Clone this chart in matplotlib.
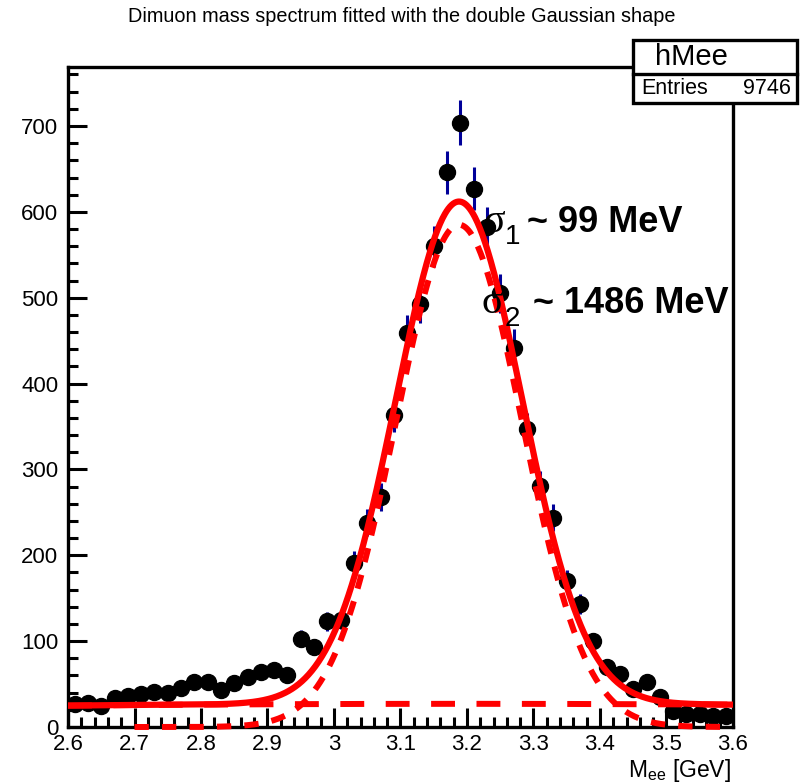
import numpy as np
import matplotlib
matplotlib.use("Agg")
import matplotlib.pyplot as plt
from matplotlib.ticker import MultipleLocator, FuncFormatter
from matplotlib.patches import Rectangle
from matplotlib.lines import Line2D

plt.rcParams['font.family'] = ['Liberation Sans', 'DejaVu Sans']

# ---- data ----
bin_centers = [2.61, 2.63, 2.65, 2.67, 2.69, 2.71, 2.73, 2.75, 2.77, 2.79,
               2.81, 2.83, 2.85, 2.87, 2.89, 2.91, 2.93, 2.95, 2.97, 2.99,
               3.01, 3.03, 3.05, 3.07, 3.09, 3.11, 3.13, 3.15, 3.17, 3.19,
               3.21, 3.23, 3.25, 3.27, 3.29, 3.31, 3.33, 3.35, 3.37, 3.39,
               3.41, 3.43, 3.45, 3.47, 3.49, 3.51, 3.53, 3.55, 3.57, 3.59]
counts = [27, 28, 24, 34, 36, 38, 41, 40, 46, 52,
          52, 43, 51, 58, 64, 66, 60, 103, 93, 123,
          125, 191, 238, 268, 363, 459, 493, 560, 646, 704,
          627, 582, 505, 442, 347, 281, 244, 170, 143, 100,
          70, 62, 44, 52, 35, 19, 15, 15, 13, 13]

# fit parameters
g1_amp, g1_mean, g1_sigma = 585.0, 3.188, 0.095
g2_amp, g2_mean, g2_sigma = 27.0, 3.19, 1.486
fit_range = (2.6, 3.6)
g1_draw_range = (2.7, 3.6)

title = "Dimuon mass spectrum fitted with the double Gaussian shape"
x_label = r'M$_{\mathregular{ee}}$ [GeV]'
hist_name = "hMee"
entries = 9746
label1 = ("1", "~ 99 MeV")
label2 = ("2", "~ 1486 MeV")

x = np.array(bin_centers)
y = np.array(counts, dtype=float)
yerr = np.sqrt(y)

def gaus(t, a, m, s):
    return a * np.exp(-0.5 * ((t - m) / s) ** 2)

W, H = 803, 783
fig = plt.figure(figsize=(W / 100, H / 100), dpi=100)
ax = fig.add_axes([68 / W, 1 - 727 / H, (733 - 68) / W, (727 - 67) / H])

def fx(px):
    return px / W

def fy(py):
    return 1 - py / H

ax.set_xlim(2.6, 3.6)
ax.set_ylim(0, 768.7)

# error bars + markers
ax.errorbar(x, y, yerr=yerr, fmt='none', ecolor='#000099', elinewidth=2.2,
            capsize=0, zorder=2)
ax.plot(x, y, 'o', color='black', markersize=11.5, zorder=3)

# fit curves
xf = np.linspace(fit_range[0], fit_range[1], 800)
ax.plot(xf, gaus(xf, g2_amp, g2_mean, g2_sigma), color='red', lw=4.3,
        ls=(0, (4.0, 3.6)), zorder=4)
x1 = np.linspace(g1_draw_range[0], g1_draw_range[1], 800)
ax.plot(x1, gaus(x1, g1_amp, g1_mean, g1_sigma), color='red', lw=4.3,
        ls=(0, (2.4, 2.2)), zorder=6, clip_on=False)
ax.plot(xf, gaus(xf, g1_amp, g1_mean, g1_sigma) + gaus(xf, g2_amp, g2_mean, g2_sigma),
        color='red', lw=4.5, zorder=5)

# axes style (ROOT-like)
for s in ax.spines.values():
    s.set_linewidth(2.4)
ax.xaxis.set_major_locator(MultipleLocator(0.1))
ax.xaxis.set_minor_locator(MultipleLocator(0.02))
ax.yaxis.set_major_locator(MultipleLocator(100))
ax.yaxis.set_minor_locator(MultipleLocator(20))
ax.tick_params(which='both', direction='in', top=False, right=False, width=2.2)
ax.tick_params(which='major', length=14, labelsize=16)
ax.tick_params(which='minor', length=7.5)
ax.tick_params(axis='x', pad=5)
ax.tick_params(axis='y', pad=7)
ax.xaxis.set_major_formatter(FuncFormatter(lambda v, p: ('%g' % round(v, 2))))
for lbl in ax.get_yticklabels():
    lbl.set_verticalalignment('center_baseline')

# x-axis title (ROOT places it at the right end, just below the labels)
fig.text(fx(731), fy(777), x_label, ha='right', va='baseline', fontsize=16.5)

# annotations (sigma labels)
for (sub, rest), (sx, base, subx, subdrop, restx) in zip(
        [label1, label2],
        [(484, 232, 505, 12, 527), (482, 313, 505, 13, 533)]):
    fig.text(fx(sx), fy(base), '\u03c3', fontsize=29, family='Liberation Serif',
             va='baseline', ha='left', zorder=12)
    fig.text(fx(subx), fy(base + subdrop), sub, fontsize=20,
             va='baseline', ha='left', zorder=12)
    fig.text(fx(restx), fy(base), rest, fontsize=26, fontweight='bold',
             va='baseline', ha='left', zorder=12)

# title
fig.text(0.5, fy(17), title, ha='center', va='center', fontsize=14.3)

# stats box
bx0, bx1 = fx(633), fx(797)
by0, by1 = fy(103), fy(40)
bymid = fy(74)
fig.patches.append(Rectangle((bx0, by0), bx1 - bx0, by1 - by0, transform=fig.transFigure,
                             facecolor='white', edgecolor='black', lw=2.4, zorder=10))
fig.lines.append(Line2D([bx0, bx1], [bymid, bymid], transform=fig.transFigure,
                        color='black', lw=2.4, zorder=11))
fig.text(fx(655), (bymid + by1) / 2, hist_name, ha='left', va='center',
         fontsize=21, zorder=12)
fig.text(fx(641), (by0 + bymid) / 2, 'Entries', ha='left', va='center',
         fontsize=15.5, zorder=12)
fig.text(fx(791), (by0 + bymid) / 2, str(entries), ha='right', va='center',
         fontsize=15.5, zorder=12)

fig.savefig('out.png', dpi=100)
